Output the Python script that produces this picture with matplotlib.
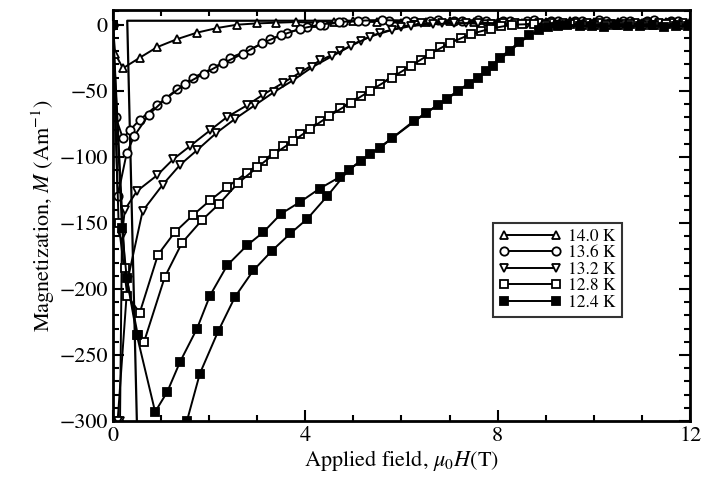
import matplotlib.pyplot as plt
from matplotlib.ticker import MultipleLocator

plt.rcParams['font.family'] = ['STIXGeneral', 'DejaVu Serif']
plt.rcParams['mathtext.fontset'] = 'stix'

# field sweeps, mu0H in T and M in A/m, two branches per temperature
h14_a = [0.0, 0.05, 0.21, 0.56, 0.92, 1.33, 1.75, 2.17, 2.58, 3.0, 3.4, 3.8, 4.2, 4.6, 5.0,
         5.5, 6.0, 6.5, 7.0, 7.5, 8.0, 8.5, 9.0, 9.5, 10.0, 10.5, 11.0, 11.5, 12.0]
m14_a = [0, -22, -33, -25, -17, -11, -6, -2.5, 0, 1, 1.5, 2, 1.5, 2, 2.5,
         2, 1.5, 2, 2.5, 2, 2, 1.5, 2, 2.5, 2, 2, 1.5, 2, 2]
h14_b = [0.5, 0.3, 12.0]
m14_b = [-300, 3, 3]

h136_a = [0.0, 0.06, 0.21, 0.35, 0.56, 0.92, 1.33, 1.67, 2.08, 2.44, 2.85, 3.27, 3.63, 4.04,
          4.38, 4.79, 5.25, 5.75, 6.25, 6.75, 7.25, 7.75, 8.25, 8.75, 9.25, 9.75, 10.25,
          10.75, 11.25, 11.75]
m136_a = [0, -70, -86, -80, -72, -61, -49, -40, -33, -25, -19, -11, -6, -2,
          0, 2, 3, 2.5, 3, 3.5, 3, 2.5, 3, 3.5, 3, 3, 2.5, 3, 3.5, 3]
h136_b = [0.0, 0.1, 0.29, 0.45, 0.75, 1.1, 1.5, 1.9, 2.3, 2.7, 3.1, 3.5, 3.9, 4.3, 4.7,
          5.1, 5.6, 6.1, 6.6, 7.1, 7.6, 8.1, 8.6, 9.1, 9.6, 10.1, 10.6, 11.1, 11.6]
m136_b = [0, -130, -97, -84, -68, -56, -45, -37, -29, -22, -14, -8, -3, 0, 2,
          3, 3.5, 3, 2.5, 3, 3.5, 3, 2.5, 3, 3, 3.5, 3, 2.5, 3]

h132_a = [0.15, 0.19, 0.25, 0.5, 0.92, 1.25, 1.6, 2.02, 2.37, 2.79, 3.12, 3.54, 3.9, 4.31,
          4.73, 5.15, 5.56, 6.0, 6.4, 6.85, 7.35, 7.85, 8.35, 8.85, 9.35, 9.85, 10.35,
          10.85, 11.35, 11.85]
m132_a = [-300, -160, -140, -126, -114, -102, -92, -80, -70, -61, -53, -44, -36, -27,
          -20, -12, -6, -2, 1, 1.5, 1, 0.5, 1, 1.5, 1, 1, 0.5, 1, 1.5, 1]
h132_b = [0.1, 0.31, 0.62, 1.04, 1.4, 1.75, 2.15, 2.55, 2.95, 3.35, 3.75, 4.15, 4.55, 4.95,
          5.35, 5.8, 6.2, 6.65, 7.1, 7.6, 8.1, 8.6, 9.1, 9.6, 10.1, 10.6, 11.1, 11.6]
m132_b = [-300, -193, -141, -121, -106, -95, -82, -71, -61, -51, -42, -32, -24, -16,
          -9, -4, -1, 0.5, 1, 1.5, 1, 0.5, 1, 1.5, 1, 0.5, 1, 1]

h128_a = [0.0, 0.12, 0.3, 0.56, 0.94, 1.29, 1.67, 2.02, 2.37, 2.79, 3.12, 3.54, 3.9, 4.31,
          4.73, 5.15, 5.56, 5.98, 6.4, 6.81, 7.23, 7.65, 8.06, 8.5, 9.0, 9.5, 10.0, 10.5,
          11.0, 11.5, 12.0]
m128_a = [0, -150, -205, -218, -174, -157, -144, -133, -123, -112, -103, -92, -83, -73,
          -63, -54, -45, -35, -27, -17, -10, -5, -1, 0.5, 0, 0.5, 0, -0.5, 0, 0.5, 0]
h128_b = [0.0, 0.25, 0.52, 0.65, 1.08, 1.44, 1.85, 2.2, 2.6, 3.0, 3.35, 3.75, 4.1, 4.5,
          4.95, 5.35, 5.8, 6.2, 6.6, 7.0, 7.45, 7.85, 8.3, 8.75, 9.25, 9.75, 10.25, 10.75,
          11.25, 11.75]
m128_b = [0, -184, -235, -240, -191, -165, -148, -136, -120, -108, -98, -88, -79, -69,
          -59, -50, -40, -31, -22, -14, -7, -3, 0, 0.5, 0, -0.5, 0, 0.5, 0, 0]

h124_a = [0.0, 0.19, 0.29, 0.5, 0.88, 1.13, 1.4, 1.75, 2.02, 2.38, 2.79, 3.13, 3.5, 3.9,
          4.3, 4.73, 5.15, 5.56, 6.25, 6.75, 7.17, 7.58, 7.9, 8.25, 8.65, 9.05, 9.45,
          9.95, 10.45, 10.95, 11.45, 11.95]
m124_a = [0, -154, -192, -235, -293, -278, -255, -230, -205, -182, -167, -157, -143, -134,
          -124, -115, -103, -93, -73, -61, -50, -40, -31, -20, -8, -2, -0.5,
          -1, -0.5, -1, -1.5, -1]
h124_b = [1.54, 1.81, 2.19, 2.54, 2.92, 3.31, 3.69, 4.04, 4.45, 4.9, 5.35, 5.8, 6.5, 6.95,
          7.4, 7.75, 8.05, 8.45, 8.85, 9.25, 9.7, 10.2, 10.7, 11.2, 11.7]
m124_b = [-300, -264, -232, -206, -186, -171, -158, -147, -130, -110, -98, -86, -67, -56,
          -45, -35, -25, -13, -4, -1, -1, -1.5, -1, -0.5, -1]

temps = ['14.0 K', '13.6 K', '13.2 K', '12.8 K', '12.4 K']
markers = ['^', 'o', 'v', 's', 's']
fills = ['white', 'white', 'white', 'white', 'black']
branches = [
    [(h14_a, m14_a)],
    [(h136_a, m136_a), (h136_b, m136_b)],
    [(h132_a, m132_a), (h132_b, m132_b)],
    [(h128_a, m128_a), (h128_b, m128_b)],
    [(h124_a, m124_a), (h124_b, m124_b)],
]

fig = plt.figure(figsize=(7.05, 4.84), dpi=100)
ax = fig.add_axes([0.160, 0.130, 0.819, 0.849])

# plain sweep line at 14.0 K without symbols
ax.plot(h14_b, m14_b, color='black', lw=1.6)

for label, mk, fc, curves in zip(temps, markers, fills, branches):
    for i, (h, m) in enumerate(curves):
        ax.plot(h, m, color='black', lw=1.4, marker=mk, ms=6, mfc=fc, mec='black',
                mew=1.3, label=label if i == 0 else None)

ax.set_xlim(0, 12)
ax.set_ylim(-300, 11)
ax.xaxis.set_major_locator(MultipleLocator(4))
ax.xaxis.set_minor_locator(MultipleLocator(1))
ax.yaxis.set_major_locator(MultipleLocator(50))
ax.yaxis.set_minor_locator(MultipleLocator(10))
ax.tick_params(which='both', direction='in', top=True, right=True, labelsize=16, width=1.5)
ax.tick_params(which='major', length=8)
ax.tick_params(which='minor', length=4)
for sp in ax.spines.values():
    sp.set_linewidth(2)

ax.set_xlabel(r'Applied field, $\mu_0H$(T)', fontsize=16, labelpad=2)
ax.set_ylabel(r'Magnetization, $M$ (Am$^{-1}$)', fontsize=16, labelpad=2)

leg = ax.legend(loc='lower left', bbox_to_anchor=(0.643, 0.232), numpoints=2,
                handlelength=3.6, fontsize=12.5, frameon=True, fancybox=False,
                edgecolor='black', borderpad=0.35, labelspacing=0.02, handletextpad=0.4)
leg.get_frame().set_linewidth(1.5)

fig.savefig('out.png', dpi=100)
